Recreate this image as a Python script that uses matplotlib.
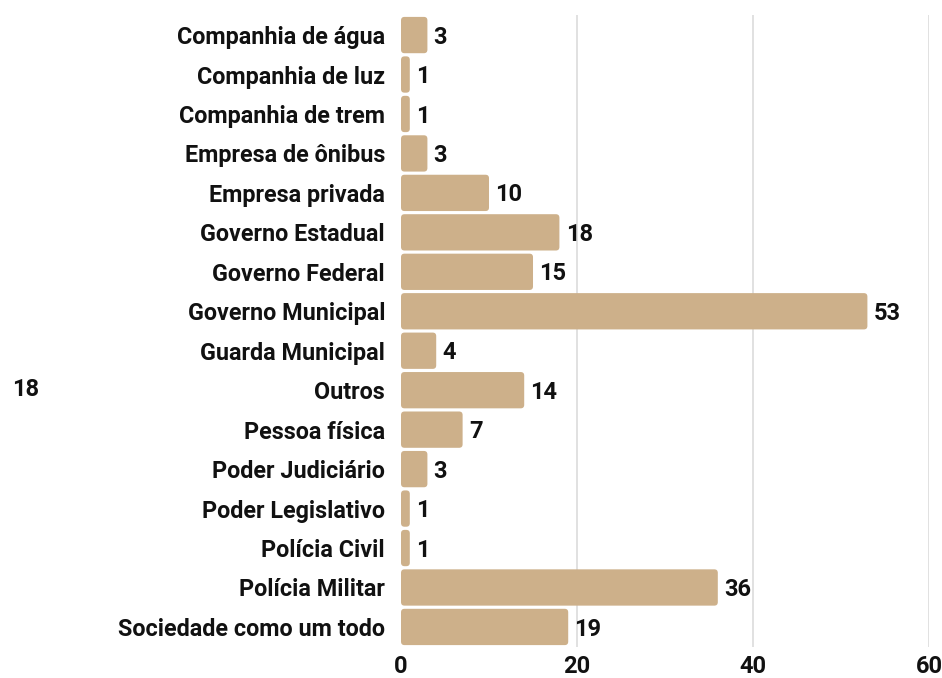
import matplotlib
matplotlib.use("Agg")
import matplotlib.pyplot as plt
from matplotlib.patches import FancyBboxPatch

categories = [
    "Companhia de água", "Companhia de luz", "Companhia de trem",
    "Empresa de ônibus", "Empresa privada", "Governo Estadual",
    "Governo Federal", "Governo Municipal", "Guarda Municipal", "Outros",
    "Pessoa física", "Poder Judiciário", "Poder Legislativo",
    "Polícia Civil", "Polícia Militar", "Sociedade como um todo",
]
values = [3, 1, 1, 3, 10, 18, 15, 53, 4, 14, 7, 3, 1, 1, 36, 19]
x_ticks = [0, 20, 40, 60]
side_note = "18"

bar_color = "#cdb08a"
grid_color = "#dcdcdc"
text_color = "#111111"

plt.rcParams["font.family"] = ["Roboto", "DejaVu Sans"]
plt.rcParams["font.weight"] = "bold"

fig = plt.figure(figsize=(9.42, 6.78), dpi=100)
ax = fig.add_axes([0.4257, 0.0462, 0.5605, 0.9312])

ypos = list(range(len(categories)))
bars = ax.barh(ypos, values, height=0.92, color=bar_color)

ax.set_xlim(0, 60)
ax.set_ylim(len(categories) - 0.5, -0.5)

# rounded versions of the bars
fig.canvas.draw()
px_x = ax.transData.transform((1, 0))[0] - ax.transData.transform((0, 0))[0]
px_y = abs(ax.transData.transform((0, 1))[1] - ax.transData.transform((0, 0))[1])
r_px = 3.5
for b in bars:
    x0, y0 = b.get_x(), b.get_y()
    w, h = b.get_width(), b.get_height()
    b.set_visible(False)
    patch = FancyBboxPatch(
        (x0, y0), w, h,
        boxstyle=f"round,pad=0,rounding_size={r_px / px_x}",
        mutation_aspect=(px_x / px_y),
        facecolor=bar_color, edgecolor="none", zorder=2,
    )
    ax.add_patch(patch)

for y, v in zip(ypos, values):
    ax.annotate(str(v), (v, y), xytext=(4.5, -1.5), textcoords="offset points",
                ha="left", va="center", fontsize=17, fontweight="bold",
                color=text_color)

ax.set_yticks(ypos)
ax.set_yticklabels(categories, fontsize=16.8, fontweight="bold", color=text_color)
ax.set_xticks(x_ticks)
ax.set_xticklabels([str(t) for t in x_ticks], fontsize=17, fontweight="bold",
                   color=text_color)
ax.tick_params(axis="y", length=0, pad=11.5)
ax.tick_params(axis="x", length=0, pad=6)

for t in x_ticks[1:]:
    ax.axvline(t, color=grid_color, linewidth=1.2, zorder=0)

for s in ax.spines.values():
    s.set_visible(False)

fig.text(12 / 942, 1 - 390 / 678, side_note, fontsize=17, fontweight="bold",
         color=text_color, ha="left", va="center")

fig.savefig("out.png", dpi=100)
